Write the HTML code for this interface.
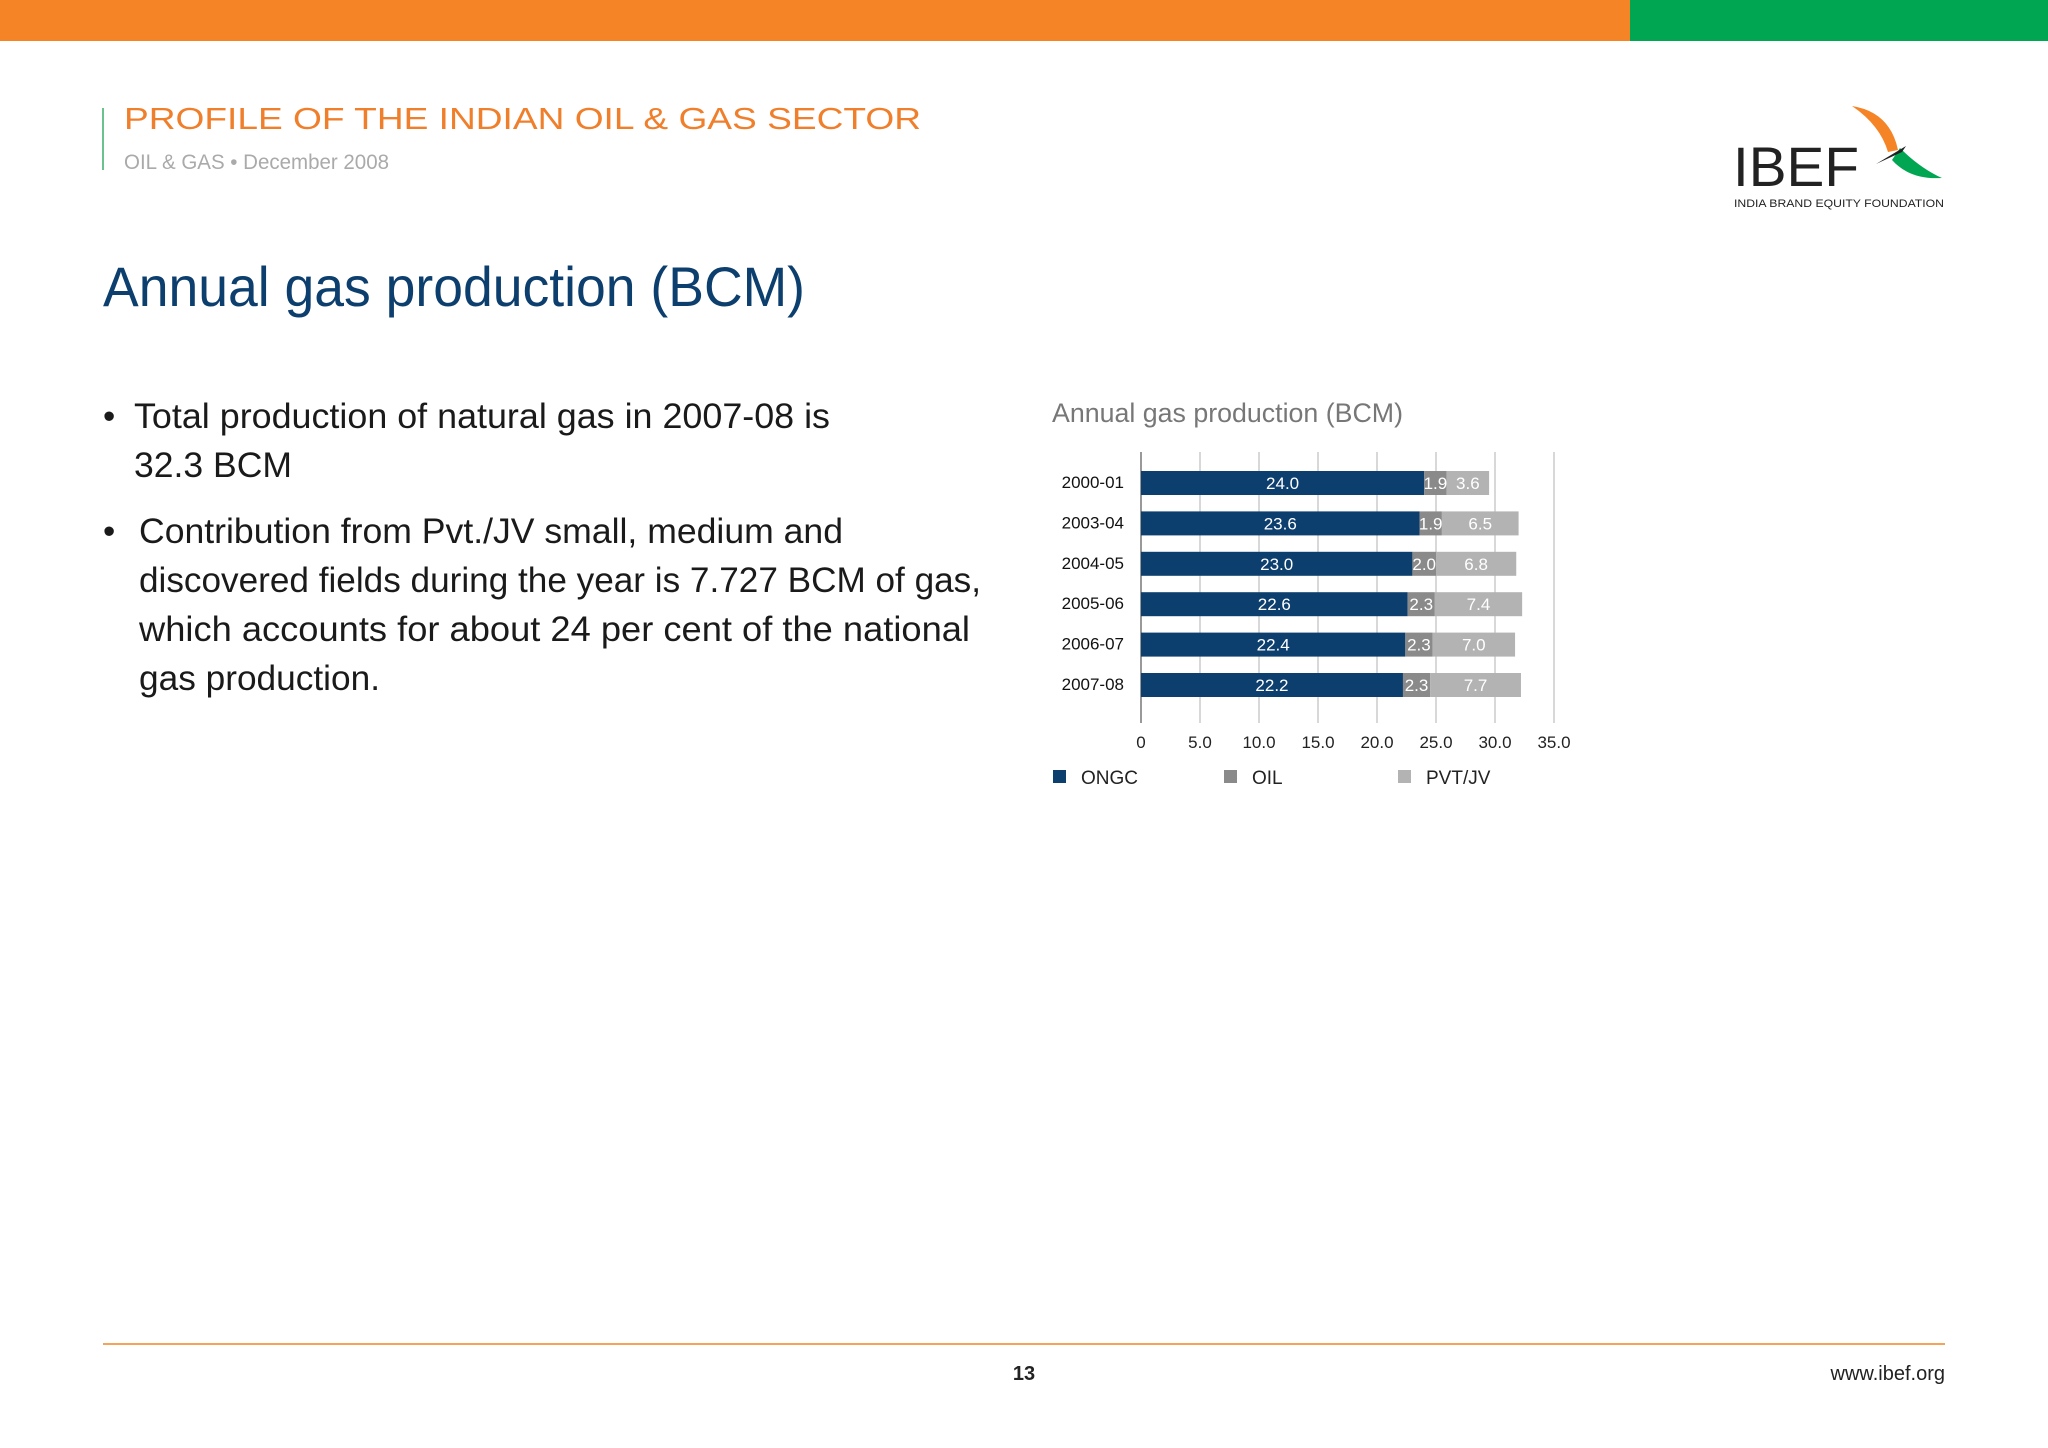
<!DOCTYPE html>
<html><head><meta charset="utf-8"><style>
html,body{margin:0;padding:0;background:#fff;}
svg{display:block;font-family:"Liberation Sans",sans-serif;}
</style></head><body>
<svg id="page" width="2048" height="1448" viewBox="0 0 2048 1448">
<rect x="0" y="0" width="1630" height="41" fill="#f58426"/>
<rect x="1630" y="0" width="418" height="41" fill="#00a651"/>
<line x1="103" y1="108" x2="103" y2="170" stroke="#6cc28f" stroke-width="2"/>
<text x="124" y="129" font-size="31" fill="#f07f2c" textLength="797" lengthAdjust="spacingAndGlyphs">PROFILE OF THE INDIAN OIL &amp; GAS SECTOR</text>
<text x="124" y="169" font-size="21" fill="#aaa" textLength="265" lengthAdjust="spacingAndGlyphs">OIL &amp; GAS • December 2008</text>
<g>
<text x="1733" y="186" font-size="56" fill="#222" textLength="126" lengthAdjust="spacingAndGlyphs">IBEF</text>
<path d="M1852 106 Q1890 112 1898 150 L1888 152 Q1880 125 1852 106Z" fill="#f58426"/>
<path d="M1900 148 Q1920 168 1942 178 Q1910 180 1892 160Z" fill="#00a651"/>
<path d="M1876 164 L1906 146 L1902 152Z" fill="#222"/>
<text x="1734" y="207" font-size="11" fill="#222" textLength="210" lengthAdjust="spacingAndGlyphs">INDIA BRAND EQUITY FOUNDATION</text>
</g>
<text x="103" y="306" font-size="56" fill="#0d3f6e" textLength="702" lengthAdjust="spacingAndGlyphs">Annual gas production (BCM)</text>
<g font-size="35" fill="#1a1a1a">
<text x="103" y="428">•</text>
<text x="134" y="428" textLength="696" lengthAdjust="spacingAndGlyphs">Total production of natural gas in 2007-08 is</text>
<text x="134" y="477" textLength="158" lengthAdjust="spacingAndGlyphs">32.3 BCM</text>
<text x="103" y="543">•</text>
<text x="139" y="543" textLength="704" lengthAdjust="spacingAndGlyphs">Contribution from Pvt./JV small, medium and</text>
<text x="139" y="592" textLength="842" lengthAdjust="spacingAndGlyphs">discovered fields during the year is 7.727 BCM of gas,</text>
<text x="139" y="641" textLength="831" lengthAdjust="spacingAndGlyphs">which accounts for about 24 per cent of the national</text>
<text x="139" y="690" textLength="241" lengthAdjust="spacingAndGlyphs">gas production.</text>
</g>
<text x="1052" y="422" font-size="27" fill="#777" textLength="351" lengthAdjust="spacingAndGlyphs">Annual gas production (BCM)</text>
<g id="chart"></g>
<line x1="103" y1="1344" x2="1945" y2="1344" stroke="#f5a25a" stroke-width="2"/>
<text x="1024" y="1380" font-size="20" font-weight="bold" fill="#222" text-anchor="middle">13</text>
<text x="1945" y="1380" font-size="20" fill="#222" text-anchor="end">www.ibef.org</text>
</svg>
<script>
const categories = ["2000-01","2003-04","2004-05","2005-06","2006-07","2007-08"];
const ongc = [24.0,23.6,23.0,22.6,22.4,22.2];
const oil = [1.9,1.9,2.0,2.3,2.3,2.3];
const pvt = [3.6,6.5,6.8,7.4,7.0,7.7];
const ticks = [0,5,10,15,20,25,30,35];
const tickLabels = ["0","5.0","10.0","15.0","20.0","25.0","30.0","35.0"];
const seriesNames = ["ONGC","OIL","PVT/JV"];

const NS = "http://www.w3.org/2000/svg";
const g = document.getElementById("chart");
const x0 = 1141, pxPer = 11.8, gTop = 452, gBottom = 723, rowTop = 471, rowStep = 40.4, barH = 24;
const xs = v => x0 + v * pxPer;
const ys = i => rowTop + i * rowStep;
function mk(tag, attrs, txt){const e=document.createElementNS(NS,tag);for(const k in attrs)e.setAttribute(k,attrs[k]);if(txt!==undefined)e.textContent=txt;g.appendChild(e);return e;}
ticks.forEach((t,i)=>{
  const l = mk("line",{x1:xs(t),x2:xs(t),y1:gTop,y2:gBottom,stroke:i===0?"#999":"#ccc","stroke-width":i===0?2:1.5});
  
  
  const tx = mk("text",{x:xs(t),y:748,"font-size":17,fill:"#222","text-anchor":"middle"},tickLabels[i]);
  
  
});
const colors = ["#0d3f6e","#8a8a8a","#b3b3b3"];
categories.forEach((c,i)=>{
  const y = ys(i);
  const lab = mk("text",{x:1124,y:y+17,"font-size":17,fill:"#111","text-anchor":"end"},c);
  
  
  const vals = [ongc[i],oil[i],pvt[i]];
  let acc = 0;
  vals.forEach((v,s)=>{
    const r = mk("rect",{x:xs(acc),y:y,width:v*pxPer,height:barH,fill:colors[s]});
    
    
    const t = mk("text",{x:xs(acc+v/2),y:y+18,"font-size":17,fill:"#fff","text-anchor":"middle"},v.toFixed(1));
    
    
    acc += v;
  });
});
const legX = [1053,1224,1398];
seriesNames.forEach((n,s)=>{
  const r = mk("rect",{x:legX[s],y:770,width:13,height:13,fill:colors[s]});
  
  
  const t = mk("text",{x:legX[s]+28,y:784,"font-size":19,fill:"#222"},n);
  
  
});
</script>
</body></html>
